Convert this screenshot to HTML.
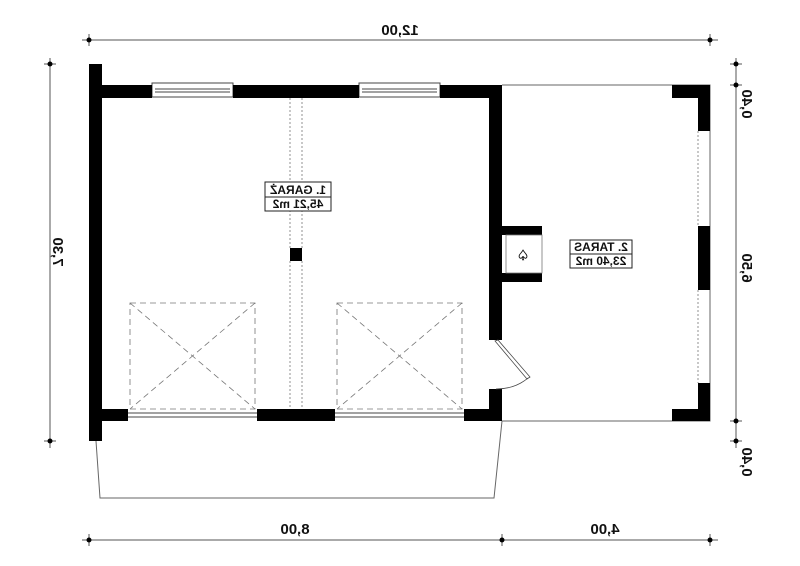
<!DOCTYPE html>
<html><head><meta charset="utf-8"><style>
html,body{margin:0;padding:0;background:#fff;}
svg{display:block;}
text{font-family:"Liberation Sans",sans-serif;font-weight:bold;fill:#111;}
</style></head><body>
<svg width="800" height="566" viewBox="0 0 800 566" xmlns="http://www.w3.org/2000/svg">
<rect width="800" height="566" fill="#fff"/>
<g stroke="#555" stroke-width="1" fill="none">
<line x1="82" y1="40" x2="718" y2="40"/>
<line x1="89" y1="34" x2="89" y2="46"/><line x1="710" y1="34" x2="710" y2="46"/>
<line x1="50" y1="58" x2="50" y2="448"/>
<line x1="44" y1="64" x2="56" y2="64"/><line x1="44" y1="441" x2="56" y2="441"/>
<line x1="736" y1="58" x2="736" y2="448"/>
<line x1="730" y1="64" x2="742" y2="64"/><line x1="730" y1="85" x2="742" y2="85"/>
<line x1="730" y1="421" x2="742" y2="421"/><line x1="730" y1="441" x2="742" y2="441"/>
<line x1="82" y1="540" x2="718" y2="540"/>
<line x1="89" y1="534" x2="89" y2="546"/><line x1="502" y1="534" x2="502" y2="546"/><line x1="710" y1="534" x2="710" y2="546"/>
</g>
<g fill="#000">
<circle cx="89" cy="40" r="2.5"/><circle cx="710" cy="40" r="2.5"/>
<circle cx="50" cy="64" r="2.5"/><circle cx="50" cy="441" r="2.5"/>
<circle cx="736" cy="64" r="2.5"/><circle cx="736" cy="85" r="2.5"/><circle cx="736" cy="421" r="2.5"/><circle cx="736" cy="441" r="2.5"/>
<circle cx="89" cy="540" r="2.5"/><circle cx="502" cy="540" r="2.5"/><circle cx="710" cy="540" r="2.5"/>
</g>
<g font-size="15" text-anchor="middle">
<text transform="translate(400,35) scale(-1,1)">12,00</text>
<text transform="translate(295,534) scale(-1,1)">8,00</text>
<text transform="translate(605,534) scale(-1,1)">4,00</text>
<text transform="translate(53,252) rotate(90) scale(-1,1)">7,30</text>
<text transform="translate(742,104) rotate(90) scale(-1,1)">0,40</text>
<text transform="translate(742,268) rotate(90) scale(-1,1)">6,50</text>
<text transform="translate(742,462) rotate(90) scale(-1,1)">0,40</text>
</g>
<g stroke="#666" stroke-width="1" fill="none">
<polyline points="502,85 710,85 710,421 502,421"/>
<polyline points="96,441 100,498 494,498 502,421"/>
</g>
<g stroke="#444" stroke-width="1" fill="#fff">
<rect x="152" y="83" width="81" height="14"/>
<rect x="359" y="83" width="81" height="14"/>
<line x1="155" y1="89" x2="230" y2="89"/><line x1="155" y1="92" x2="230" y2="92"/>
<line x1="362" y1="89" x2="437" y2="89"/><line x1="362" y1="92" x2="437" y2="92"/>
<line x1="128" y1="413" x2="257" y2="413"/><line x1="128" y1="417" x2="257" y2="417"/>
<line x1="335" y1="413" x2="464" y2="413"/><line x1="335" y1="417" x2="464" y2="417"/>
</g>
<g fill="#000">
<rect x="89" y="64" width="13" height="377"/>
<rect x="89" y="85" width="63" height="13"/>
<rect x="233" y="85" width="126" height="13"/>
<rect x="440" y="85" width="62" height="13"/>
<rect x="489" y="85" width="13" height="255"/>
<rect x="489" y="389" width="13" height="32"/>
<rect x="89" y="409" width="39" height="12"/>
<rect x="257" y="409" width="78" height="12"/>
<rect x="464" y="409" width="38" height="12"/>
<rect x="290" y="248" width="12" height="13"/>
<rect x="672" y="85" width="38" height="13"/>
<rect x="698" y="85" width="12" height="46"/>
<rect x="698" y="226" width="12" height="64"/>
<rect x="698" y="383" width="12" height="38"/>
<rect x="672" y="409" width="38" height="12"/>
<rect x="502" y="226" width="40" height="9"/>
<rect x="502" y="273" width="40" height="9"/>
</g>
<rect x="506" y="235" width="36" height="38" fill="#fff" stroke="#777" stroke-width="0.8"/>
<text x="523" y="260" font-size="14" text-anchor="middle" font-weight="normal">♤</text>
<g stroke="#777" stroke-width="0.8" fill="none" stroke-dasharray="2,2">
<line x1="290" y1="98" x2="290" y2="248"/><line x1="302" y1="98" x2="302" y2="248"/>
<line x1="290" y1="261" x2="290" y2="409"/><line x1="302" y1="261" x2="302" y2="409"/>
<line x1="698" y1="131" x2="698" y2="226"/><line x1="698" y1="290" x2="698" y2="383"/>
</g>
<g stroke="#777" stroke-width="0.8" fill="none" stroke-dasharray="6,4">
<rect x="130" y="303" width="125" height="106"/>
<line x1="130" y1="303" x2="255" y2="409"/><line x1="255" y1="303" x2="130" y2="409"/>
<rect x="337" y="303" width="125" height="106"/>
<line x1="337" y1="303" x2="462" y2="409"/><line x1="462" y1="303" x2="337" y2="409"/>
</g>
<g stroke="#444" stroke-width="0.8" fill="none">
<polygon points="495,341 498,340 530,377 527,379"/>
<path d="M528,378 Q515,389 496,389"/>
</g>
<g stroke="#222" stroke-width="1" fill="#fff">
<rect x="265" y="182" width="66" height="15"/><rect x="265" y="197" width="66" height="14"/>
<rect x="570" y="240" width="62" height="14"/><rect x="570" y="254" width="62" height="14"/>
</g>
<g font-size="12" text-anchor="middle">
<text transform="translate(298,194) scale(-1,1)">1. GARAŻ</text>
<text transform="translate(298,208) scale(-1,1)">45,21 m2</text>
<text transform="translate(601,251) scale(-1,1)">2. TARAS</text>
<text transform="translate(601,265) scale(-1,1)">23,40 m2</text>
</g>
</svg>
</body></html>
